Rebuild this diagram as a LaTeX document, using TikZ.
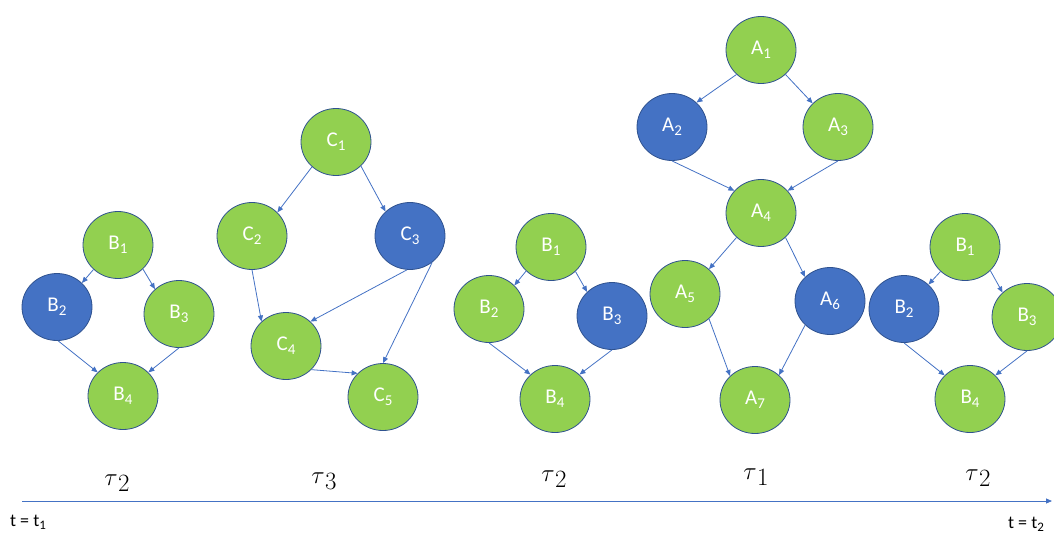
\documentclass[tikz,border=0pt]{standalone}
\usepackage[no-math]{fontspec}
\setmainfont{Carlito}
\usetikzlibrary{arrows.meta,shapes.geometric}
\definecolor{gfill}{HTML}{92D050}
\definecolor{bfill}{HTML}{4472C4}
\definecolor{nborder}{HTML}{2F528F}
\definecolor{arr}{HTML}{4472C4}
\newcommand{\nlab}[2]{#1\raisebox{-4pt}{\fontsize{15}{15}\selectfont #2}}
\newcommand{\tlabel}[2]{#1\raisebox{-3pt}{\fontsize{13}{13}\selectfont #2}}
\newcommand{\taulabel}[1]{$\tau$\kern0.5pt\raisebox{-0.21em}{$#1$}}
\begin{document}
\begin{tikzpicture}[x=1pt,y=-1pt,
  gnode/.style={ellipse, draw=nborder, line width=0.8pt, fill=gfill,
    minimum width=70pt, minimum height=67pt, inner sep=0pt, text=white,
    font=\fontsize{21}{21}\selectfont},
  bnode/.style={gnode, fill=bfill},
  conn/.style={draw=arr, line width=0.8pt, -{Triangle[length=6pt,width=5pt]}},
  taulab/.style={inner sep=0pt, font=\fontsize{29}{29}\selectfont},
  tlab/.style={inner sep=0pt, font=\fontsize{18}{18}\selectfont}]
\useasboundingbox (0,0) rectangle (1054,536);
\clip (0,0) rectangle (1054,536);

% group 1 (B)
\node[gnode] (b1) at (118,245) {\nlab{B}{1}};
\node[bnode] (b2) at (57,307) {\nlab{B}{2}};
\node[gnode] (b3) at (179,314) {\nlab{B}{3}};
\node[gnode] (b4) at (123,396) {\nlab{B}{4}};
\draw[conn] (b1.-135) -- (b2.44);
\draw[conn] (b1.-44) -- (b3.134);
\draw[conn] (b2.-88) -- (b4.137);
\draw[conn] (b3.-90) -- (b4.43);

% group 2 (C)
\node[gnode] (c1) at (336,142) {\nlab{C}{1}};
\node[gnode] (c2) at (252,236) {\nlab{C}{2}};
\node[bnode] (c3) at (410,236) {\nlab{C}{3}};
\node[gnode] (c4) at (286,346) {\nlab{C}{4}};
\node[gnode] (c5) at (383,397) {\nlab{C}{5}};
\draw[conn] (c1.-134) -- (c2.43);
\draw[conn] (c1.-44) -- (c3.135);
\draw[conn] (c2.-90) -- (c4.135);
\draw[conn] (c3.-95) -- (c4.45);
\draw[conn] (c3.-50) -- (c5.90);
\draw[conn] (c4.-43) -- (c5.137);

% group 3 (B)
\node[gnode] (m1) at (551,247) {\nlab{B}{1}};
\node[gnode] (m2) at (489,309) {\nlab{B}{2}};
\node[bnode] (m3) at (612,316) {\nlab{B}{3}};
\node[gnode] (m4) at (555,399) {\nlab{B}{4}};
\draw[conn] (m1.-136) -- (m2.43);
\draw[conn] (m1.-45) -- (m3.136);
\draw[conn] (m2.-90) -- (m4.135);
\draw[conn] (m3.-90) -- (m4.45);

% group 4 (A)
\node[gnode] (a1) at (761,50) {\nlab{A}{1}};
\node[bnode] (a2) at (672,127) {\nlab{A}{2}};
\node[gnode] (a3) at (838,127) {\nlab{A}{3}};
\node[gnode] (a4) at (761,213) {\nlab{A}{4}};
\node[gnode] (a5) at (685,294) {\nlab{A}{5}};
\node[bnode] (a6) at (830,301) {\nlab{A}{6}};
\node[gnode] (a7) at (755,400) {\nlab{A}{7}};
\draw[conn] (a1.-135) -- (a2.45);
\draw[conn] (a1.-45) -- (a3.137);
\draw[conn] (a2.-90) -- (a4.140);
\draw[conn] (a3.-90) -- (a4.40);
\draw[conn] (a4.-135) -- (a5.46);
\draw[conn] (a4.-45) -- (a6.136);
\draw[conn] (a5.-46) -- (a7.136);
\draw[conn] (a6.-136) -- (a7.46);

% group 5 (B)
\node[gnode] (r1) at (965,247) {\nlab{B}{1}};
\node[bnode] (r2) at (904,309) {\nlab{B}{2}};
\node[gnode] (r3) at (1027,317) {\nlab{B}{3}};
\node[gnode] (r4) at (970,399) {\nlab{B}{4}};
\draw[conn] (r1.-135) -- (r2.45);
\draw[conn] (r1.-43) -- (r3.135);
\draw[conn] (r2.-90) -- (r4.137);
\draw[conn] (r3.-90) -- (r4.43);

% task labels
\node[taulab] (t1) at (117,483) {\taulabel{2}};
\node[taulab] (t2) at (324,481) {\taulabel{3}};
\node[taulab] (t3) at (554,479) {\taulabel{2}};
\node[taulab] (t4) at (756,477) {\taulabel{1}};
\node[taulab] (t5) at (978,478) {\taulabel{2}};

% time axis
\coordinate (ax0) at (22,501);
\coordinate (ax1) at (1052,501);
\draw[conn] (ax0) -- (ax1);
\node[tlab] (tstart) at (28,522) {\tlabel{t = t}{1}};
\node[tlab] (tend) at (1026,524) {\tlabel{t = t}{2}};
\end{tikzpicture}
\end{document}
